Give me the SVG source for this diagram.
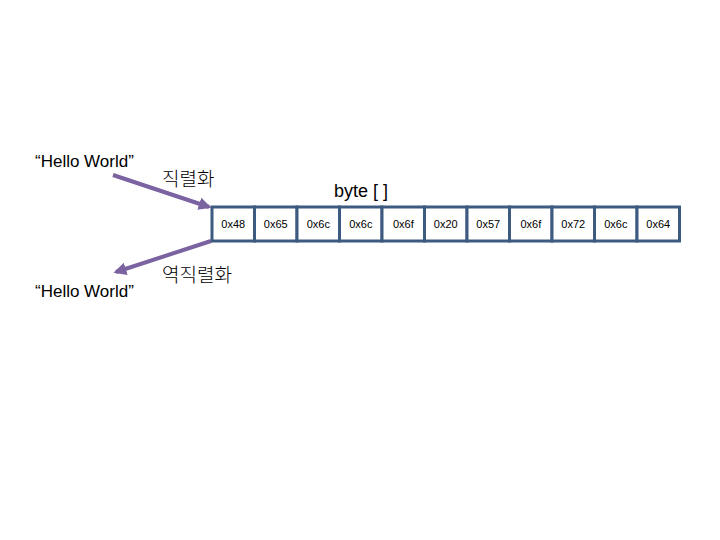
<svg xmlns="http://www.w3.org/2000/svg" width="720" height="540" viewBox="0 0 720 540">
<style>
.t{font-family:"Liberation Sans","Noto Sans CJK KR",sans-serif;fill:#000}
.hw{font-size:17px}
.ko{font-size:19px;font-family:"Noto Sans CJK KR","Liberation Sans",sans-serif;font-weight:300}
.cell rect{fill:#fff;stroke:#3d5a80;stroke-width:3}
.cell text{font-size:11px;text-anchor:middle}
.arr{stroke:#7b62a0;stroke-width:4;fill:none}
</style>
<defs>
<marker id="ah" viewBox="0 0 10 10" refX="8" refY="5" markerWidth="3.2" markerHeight="3.2" orient="auto" markerUnits="strokeWidth">
<path d="M0,0 L10,5 L0,10 z" fill="#7b62a0"/>
</marker>
</defs>
<g id="labels">
<text class="t hw" x="35" y="167">“Hello World”</text>
<text class="t hw" x="35" y="297">“Hello World”</text>
<text class="t ko" x="162" y="186">직렬화</text>
<text class="t ko" x="162" y="282">역직렬화</text>
<text class="t" x="361" y="197" font-size="18" text-anchor="middle">byte [ ]</text>
</g>
<g id="connectors">
<line class="arr" x1="113" y1="175" x2="209" y2="207" marker-end="url(#ah)"/>
<line class="arr" x1="211" y1="241" x2="116" y2="272" marker-end="url(#ah)"/>
</g>
<g id="bytes" class="cell">
<g id="b0"><rect x="212" y="207" width="42.5" height="34"/><text class="t" x="233.3" y="228">0x48</text></g>
<g id="b1"><rect x="254.5" y="207" width="42.5" height="34"/><text class="t" x="275.8" y="228">0x65</text></g>
<g id="b2"><rect x="297" y="207" width="42.5" height="34"/><text class="t" x="318.3" y="228">0x6c</text></g>
<g id="b3"><rect x="339.5" y="207" width="42.5" height="34"/><text class="t" x="360.8" y="228">0x6c</text></g>
<g id="b4"><rect x="382" y="207" width="42.5" height="34"/><text class="t" x="403.3" y="228">0x6f</text></g>
<g id="b5"><rect x="424.5" y="207" width="42.5" height="34"/><text class="t" x="445.8" y="228">0x20</text></g>
<g id="b6"><rect x="467" y="207" width="42.5" height="34"/><text class="t" x="488.3" y="228">0x57</text></g>
<g id="b7"><rect x="509.5" y="207" width="42.5" height="34"/><text class="t" x="530.8" y="228">0x6f</text></g>
<g id="b8"><rect x="552" y="207" width="42.5" height="34"/><text class="t" x="573.3" y="228">0x72</text></g>
<g id="b9"><rect x="594.5" y="207" width="42.5" height="34"/><text class="t" x="615.8" y="228">0x6c</text></g>
<g id="b10"><rect x="637" y="207" width="42.5" height="34"/><text class="t" x="658.3" y="228">0x64</text></g>
</g>
</svg>
